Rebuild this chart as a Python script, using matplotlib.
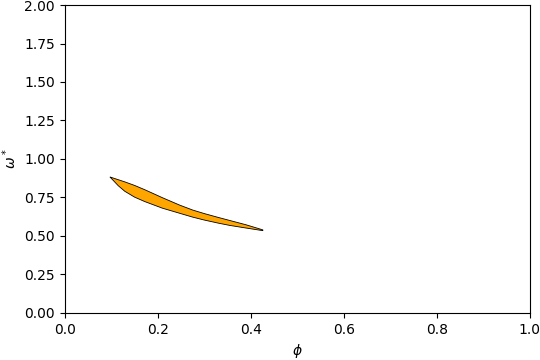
import numpy as np
import matplotlib
matplotlib.use('Agg')
import matplotlib.pyplot as plt

# upper and lower boundary of the region
phi_upper = [0.097, 0.113, 0.129, 0.150, 0.172, 0.21, 0.247, 0.275, 0.30, 0.33, 0.355, 0.39, 0.426]
omega_upper = [0.883, 0.867, 0.851, 0.828, 0.800, 0.748, 0.700, 0.668, 0.645, 0.620, 0.600, 0.572, 0.539]
phi_lower = [0.097, 0.105, 0.115, 0.129, 0.150, 0.172, 0.21, 0.247, 0.275, 0.30, 0.33, 0.355, 0.39, 0.426]
omega_lower = [0.883, 0.858, 0.826, 0.790, 0.752, 0.723, 0.680, 0.647, 0.622, 0.603, 0.583, 0.568, 0.551, 0.534]

fig = plt.figure(figsize=(5.4, 3.6), dpi=100)
ax = fig.add_axes([0.12, 0.131, 0.861, 0.855])

x = np.concatenate([phi_upper, phi_lower[::-1]])
y = np.concatenate([omega_upper, omega_lower[::-1]])
ax.fill(x, y, facecolor='orange', edgecolor='black', linewidth=0.6)

ax.set_xlim(0, 1)
ax.set_ylim(0, 2)
ax.set_xlabel(r'$\phi$')
ax.set_ylabel(r'$\omega^*$')

fig.savefig('out.png', dpi=100)
